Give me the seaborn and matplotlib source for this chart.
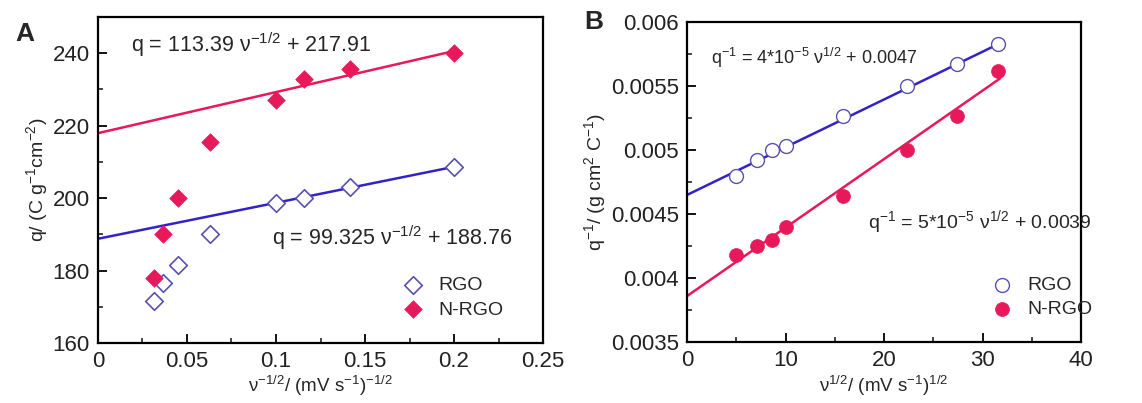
import numpy as np
import pandas as pd
import matplotlib
matplotlib.use("Agg")
import matplotlib.pyplot as plt
import seaborn as sns
from matplotlib.ticker import AutoMinorLocator, MultipleLocator, FuncFormatter

sns.set_theme(style="white")
plt.rcParams['font.family'] = ['Liberation Sans', 'DejaVu Sans']
plt.rcParams['mathtext.fontset'] = 'custom'
plt.rcParams['mathtext.rm'] = 'Liberation Sans'

# ---- data panel A ----
xA = [0.0316, 0.0365, 0.0447, 0.0632, 0.1, 0.1155, 0.1414, 0.2]
qA_rgo = [171.5, 176.5, 181.5, 190.0, 198.5, 200.0, 203.0, 208.5]
qA_nrgo = [178.0, 190.0, 200.0, 215.5, 227.0, 233.0, 235.5, 240.0]
fitA_rgo = (99.325, 188.76)
fitA_nrgo = (113.39, 217.91)
fitA_range = [0.0, 0.2]

# ---- data panel B ----
xB = [5.0, 7.07, 8.66, 10.0, 15.81, 22.36, 27.39, 31.62]
qB_rgo = [0.00480, 0.00492, 0.00500, 0.00503, 0.00527, 0.00550, 0.00567, 0.00583]
qB_nrgo = [0.00418, 0.00425, 0.00430, 0.00440, 0.00464, 0.00500, 0.00527, 0.00562]
fitB_rgo = (3.73e-5, 0.00465)
fitB_nrgo = (5.35e-5, 0.00386)
fitB_range = [0.0, 31.8]

series = ["RGO", "N-RGO"]
RED = "#E8195A"
BLUE = "#3322C8"
BLUE_MK = "#5A50B0"

fig = plt.figure(figsize=(11.42, 4.03), dpi=100)
axA = fig.add_axes([0.0858, 0.149, 0.3897, 0.809])
axB = fig.add_axes([0.6016, 0.151, 0.345, 0.794])

def fit_df(rng, slope, icpt):
    xs = np.array(rng)
    return pd.DataFrame({"x": xs, "y": slope * xs + icpt})

# panel A
sns.lineplot(data=fit_df(fitA_range, *fitA_nrgo), x="x", y="y", ax=axA, color=RED, lw=1.8)
sns.lineplot(data=fit_df(fitA_range, *fitA_rgo), x="x", y="y", ax=axA, color=BLUE, lw=1.8)
sns.scatterplot(x=xA, y=qA_rgo, ax=axA, marker="D", s=80, facecolor="white",
                edgecolor=BLUE_MK, linewidth=1.2, label=series[0], zorder=3)
sns.scatterplot(x=xA, y=qA_nrgo, ax=axA, marker="D", s=80, color=RED,
                edgecolor=RED, linewidth=0.5, label=series[1], zorder=3)
axA.set_xlim(0, 0.25)
axA.set_ylim(160, 250)
axA.xaxis.set_major_locator(MultipleLocator(0.05))
axA.yaxis.set_major_locator(MultipleLocator(20))
axA.xaxis.set_major_formatter(FuncFormatter(lambda v, p: f"{v:g}"))
axA.set_xlabel(r"ν$^{-1/2}$/ (mV s$^{-1}$)$^{-1/2}$", fontsize=13.5, labelpad=1)
axA.set_ylabel(r"q/ (C g$^{-1}$cm$^{-2}$)", fontsize=14, labelpad=1)
axA.text(0.0185, 242.3, r"q = 113.39 ν$^{-1/2}$ + 217.91", fontsize=15.5, va="center")
axA.text(0.098, 189.0, r"q = 99.325 ν$^{-1/2}$ + 188.76", fontsize=15.5, va="center")
axA.text(0.0135, 0.915, "A", fontsize=19, fontweight="bold", ha="left", va="center",
         transform=fig.transFigure)
axA.legend(loc="lower left", bbox_to_anchor=(0.665, 0.075), frameon=False, fontsize=14,
           handletextpad=0.3, borderaxespad=0, borderpad=0, labelspacing=0.35)

# panel B
sns.lineplot(data=fit_df(fitB_range, *fitB_rgo), x="x", y="y", ax=axB, color=BLUE, lw=1.8)
sns.lineplot(data=fit_df(fitB_range, *fitB_nrgo), x="x", y="y", ax=axB, color=RED, lw=1.8)
sns.scatterplot(x=xB, y=qB_rgo, ax=axB, marker="o", s=100, facecolor="white",
                edgecolor=BLUE_MK, linewidth=1.0, label=series[0], zorder=3)
sns.scatterplot(x=xB, y=qB_nrgo, ax=axB, marker="o", s=100, color=RED,
                edgecolor=RED, linewidth=0.5, label=series[1], zorder=3)
axB.set_xlim(0, 40)
axB.set_ylim(0.0035, 0.006)
axB.xaxis.set_major_locator(MultipleLocator(10))
axB.yaxis.set_major_locator(MultipleLocator(0.0005))
axB.yaxis.set_major_formatter(FuncFormatter(lambda v, p: f"{v:g}"))
axB.set_xlabel(r"ν$^{1/2}$/ (mV s$^{-1}$)$^{1/2}$", fontsize=13.5, labelpad=1)
axB.set_ylabel(r"q$^{-1}$/ (g cm$^{2}$ C$^{-1}$)", fontsize=14, labelpad=1)
axB.text(2.4, 0.005719, r"q$^{-1}$ = 4*10$^{-5}$ ν$^{1/2}$ + 0.0047", fontsize=13, va="center")
axB.text(18.4, 0.00443, r"q$^{-1}$ = 5*10$^{-5}$ ν$^{1/2}$ + 0.0039", fontsize=14, va="center")
axB.text(0.512, 0.945, "B", fontsize=19, fontweight="bold", ha="left", va="center",
         transform=fig.transFigure)
axB.legend(loc="lower left", bbox_to_anchor=(0.75, 0.075), frameon=False, fontsize=14,
           handletextpad=0.3, borderaxespad=0, borderpad=0, labelspacing=0.35)

for ax in (axA, axB):
    for s in ax.spines.values():
        s.set_visible(True)
        s.set_color("black")
        s.set_linewidth(1.6)
    ax.xaxis.set_minor_locator(AutoMinorLocator(2))
    ax.yaxis.set_minor_locator(AutoMinorLocator(2))
    ax.tick_params(which="major", direction="in", length=6.5, width=1.3,
                   labelsize=16, colors="black", labelcolor="#222222",
                   bottom=True, left=True, top=False, right=False, pad=6)
    ax.tick_params(which="minor", direction="in", length=3.5, width=1.2,
                   bottom=True, left=True, top=False, right=False)
    ax.grid(False)

fig.savefig("out.png", dpi=100)
